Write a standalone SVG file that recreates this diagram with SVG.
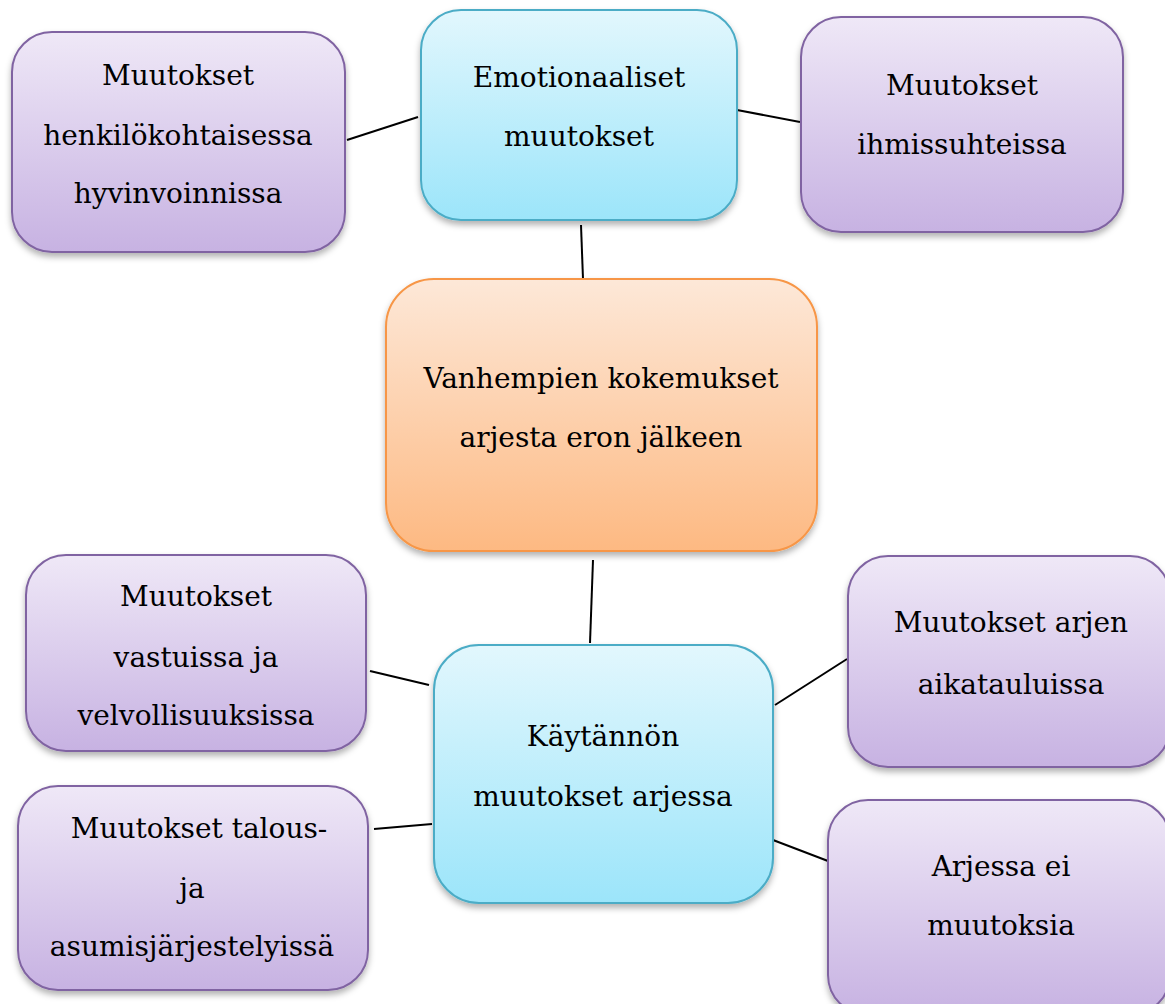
<svg xmlns="http://www.w3.org/2000/svg" width="1165" height="1004" viewBox="0 0 1165 1004">
<defs>
<linearGradient id="gP" x1="0" y1="0" x2="0" y2="1"><stop offset="0" stop-color="#efe8f7"/><stop offset="1" stop-color="#c7b2e2"/></linearGradient>
<linearGradient id="gC" x1="0" y1="0" x2="0" y2="1"><stop offset="0" stop-color="#e2f7fd"/><stop offset="1" stop-color="#9ce5fa"/></linearGradient>
<linearGradient id="gO" x1="0" y1="0" x2="0" y2="1"><stop offset="0" stop-color="#fde8d8"/><stop offset="1" stop-color="#fdb982"/></linearGradient>
<filter id="sh" x="-10%" y="-10%" width="120%" height="125%"><feDropShadow dx="0" dy="4" stdDeviation="3" flood-color="#000" flood-opacity="0.3"/></filter>
<style>
.p{fill:url(#gP);stroke:#8064a2;stroke-width:2;filter:url(#sh)}
.c{fill:url(#gC);stroke:#4bacc6;stroke-width:2;filter:url(#sh)}
.o{fill:url(#gO);stroke:#f79646;stroke-width:2;filter:url(#sh)}
text{font-family:"DejaVu Serif","Liberation Serif",serif;font-size:28px;fill:#000;text-anchor:middle}
.e line{stroke:#000;stroke-width:2}
</style>
</defs>
<rect width="1165" height="1004" fill="#fff"/>
<g class="e" id="connectors">
<line x1="347" y1="140" x2="418" y2="117"/>
<line x1="737" y1="110" x2="800" y2="122"/>
<line x1="581" y1="225" x2="583" y2="279"/>
<line x1="593" y1="560" x2="590" y2="643"/>
<line x1="370" y1="671" x2="429" y2="685"/>
<line x1="374" y1="829" x2="432" y2="824"/>
<line x1="775" y1="705" x2="847" y2="659"/>
<line x1="773" y1="840" x2="828" y2="861"/>
</g>
<g id="n1"><rect class="p" x="12" y="32" width="333" height="220" rx="40"/>
<text x="178" y="85">Muutokset</text><text x="178" y="145">henkilökohtaisessa</text><text x="178" y="203">hyvinvoinnissa</text></g>
<g id="n2"><rect class="c" x="421" y="10" width="316" height="210" rx="40"/>
<text x="579" y="87">Emotionaaliset</text><text x="579" y="146">muutokset</text></g>
<g id="n3"><rect class="p" x="801" y="17" width="322" height="215" rx="40"/>
<text x="962" y="95">Muutokset</text><text x="962" y="154">ihmissuhteissa</text></g>
<g id="n4"><rect class="o" x="386" y="279" width="431" height="272" rx="48"/>
<text x="601" y="388">Vanhempien kokemukset</text><text x="601" y="447">arjesta eron jälkeen</text></g>
<g id="n5"><rect class="p" x="26" y="555" width="340" height="196" rx="40"/>
<text x="196" y="606">Muutokset</text><text x="196" y="667">vastuissa ja</text><text x="196" y="725">velvollisuuksissa</text></g>
<g id="n6"><rect class="c" x="434" y="645" width="339" height="258" rx="45"/>
<text x="603" y="746">Käytännön</text><text x="603" y="806">muutokset arjessa</text></g>
<g id="n7"><rect class="p" x="848" y="556" width="322" height="211" rx="40"/>
<text x="1011" y="632">Muutokset arjen</text><text x="1011" y="694">aikatauluissa</text></g>
<g id="n8"><rect class="p" x="18" y="786" width="350" height="204" rx="40"/>
<text x="199" y="838">Muutokset talous-</text><text x="192" y="898">ja</text><text x="192" y="956">asumisjärjestelyissä</text></g>
<g id="n9"><rect class="p" x="828" y="800" width="342" height="215" rx="40"/>
<text x="1001" y="876">Arjessa ei</text><text x="1001" y="935">muutoksia</text></g>
</svg>
